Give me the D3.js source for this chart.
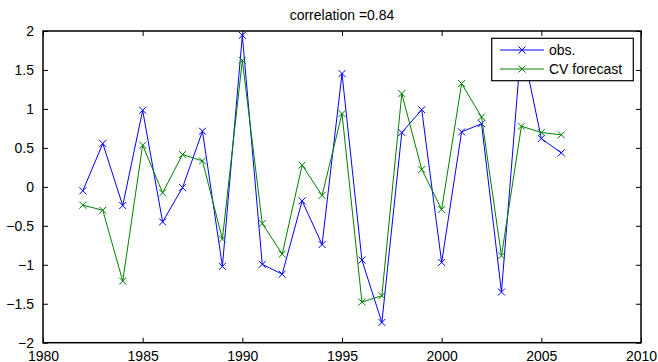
<!DOCTYPE html>
<html>
<head>
<meta charset="utf-8">
<script src="https://cdn.jsdelivr.net/npm/d3@7"></script>
<style>
  html, body { margin: 0; padding: 0; background: #fff; }
  svg { display: block; font-family: "Liberation Sans", Arial, Helvetica, sans-serif; }
</style>
</head>
<body>
<svg id="chart" width="658" height="362"></svg>
<script>
const years = [1982,1983,1984,1985,1986,1987,1988,1989,1990,1991,1992,1993,1994,1995,1996,1997,1998,1999,2000,2001,2002,2003,2004,2005,2006];
const obs = [-0.05,0.556,-0.24,0.983,-0.45,-0.01,0.714,-1.02,1.945,-0.995,-1.12,-0.18,-0.74,1.454,-0.94,-1.74,0.697,0.99,-0.97,0.705,0.81,-1.35,1.85,0.62,0.436];
const cvForecast = [-0.235,-0.30,-1.21,0.535,-0.077,0.415,0.333,-0.67,1.624,-0.47,-0.863,0.278,-0.11,0.94,-1.478,-1.397,1.197,0.223,-0.29,1.325,0.897,-0.885,0.778,0.697,0.667];
const xTicks = [1980,1985,1990,1995,2000,2005,2010];
const yTicks = [-2,-1.5,-1,-0.5,0,0.5,1,1.5,2];
const seriesNames = ["obs.","CV forecast"];
const seriesColors = ["#0000ff","#008000"];
const titleText = "correlation =0.84";

const svg = d3.select("#chart");
const L = 43, R = 641, T = 31, B = 342.7;
const x = d3.scaleLinear().domain([1980,2010]).range([L,R]);
const y = d3.scaleLinear().domain([-2,2]).range([B,T]);
const fontSize = 14;
const fmt = d3.format("~g");

// axes
const gB = svg.append("g").attr("transform",`translate(0,${B})`)
  .call(d3.axisBottom(x).tickValues(xTicks).tickFormat(d3.format("d")).tickSizeInner(-5).tickSizeOuter(0).tickPadding(8.3));
const gT = svg.append("g").attr("transform",`translate(0,${T})`)
  .call(d3.axisTop(x).tickValues(xTicks).tickFormat("").tickSizeInner(-5).tickSizeOuter(0));
const gL = svg.append("g").attr("transform",`translate(${L},0)`)
  .call(d3.axisLeft(y).tickValues(yTicks).tickFormat(fmt).tickSizeInner(-5).tickSizeOuter(0).tickPadding(9));
const gR = svg.append("g").attr("transform",`translate(${R},0)`)
  .call(d3.axisRight(y).tickValues(yTicks).tickFormat("").tickSizeInner(-5).tickSizeOuter(0));
[gB,gT,gL,gR].forEach(g => {
  g.select(".domain").remove();
  g.selectAll(".tick line").attr("stroke","#000").attr("stroke-width",1);
  g.selectAll(".tick text").attr("font-size",fontSize).attr("fill","#000")
    .style("font-family",'"Liberation Sans", Arial, Helvetica, sans-serif');
});

// title
svg.append("text").attr("x",(L+R)/2).attr("y",19.5).attr("text-anchor","middle")
  .attr("font-size",fontSize).attr("fill","#000").text(titleText);

// data
const series = [obs, cvForecast];
const line = d3.line().x((d,i)=>x(years[i])).y(d=>y(d));
const ms = 3.5;
function cross(g, cx, cy, color) {
  g.append("path").attr("d",`M${cx-ms},${cy-ms}L${cx+ms},${cy+ms}M${cx-ms},${cy+ms}L${cx+ms},${cy-ms}`)
    .attr("stroke",color).attr("stroke-width",1).attr("fill","none");
}
series.forEach((vals, si) => {
  const g = svg.append("g");
  g.append("path").datum(vals).attr("d",line).attr("fill","none")
    .attr("stroke",seriesColors[si]).attr("stroke-width",1);
  vals.forEach((v,i) => cross(g, x(years[i]), y(v), seriesColors[si]));
});

// box
svg.append("rect").attr("x",L).attr("y",T).attr("width",R-L).attr("height",B-T)
  .attr("fill","none").attr("stroke","#000").attr("stroke-width",1.5);

// legend
const lg = svg.append("g");
lg.append("rect").attr("x",491.7).attr("y",38.3).attr("width",141.6).attr("height",42.4)
  .attr("fill","#fff").attr("stroke","#000").attr("stroke-width",1.2);
seriesNames.forEach((name, i) => {
  const ly = 50 + i*19;
  lg.append("line").attr("x1",500).attr("x2",544).attr("y1",ly).attr("y2",ly)
    .attr("stroke",seriesColors[i]).attr("stroke-width",1);
  cross(lg, 522, ly, seriesColors[i]);
  lg.append("text").attr("x",549).attr("y",ly+5).attr("font-size",fontSize).attr("fill","#000").text(name);
});
</script>
</body>
</html>
